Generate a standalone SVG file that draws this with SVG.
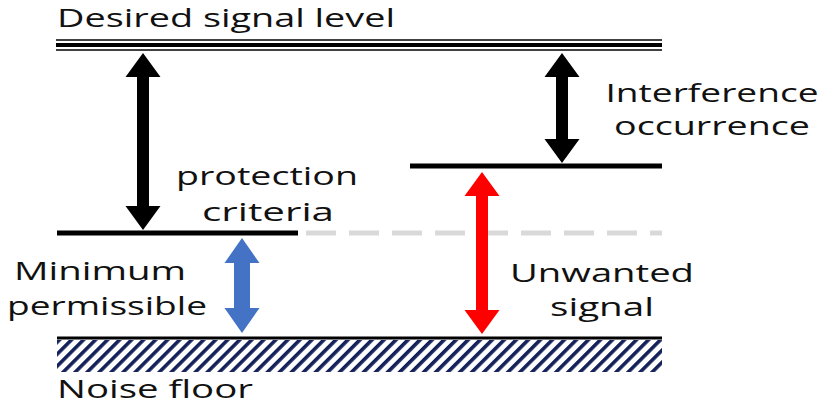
<svg xmlns="http://www.w3.org/2000/svg" width="827" height="410" viewBox="0 0 827 410">
  <style>
    .t { font-family: "Open Sans", "Liberation Sans", sans-serif; font-size: 26px; fill: #111; }
    .m { text-anchor: middle; }
    .lvl { stroke: #000; fill: none; }
    .blk { fill: #000; }
    .red { fill: #ff0000; }
    .blue { fill: #4472c4; }
  </style>
  <defs>
    <pattern id="hatch" patternUnits="userSpaceOnUse" width="8.5" height="8.5" patternTransform="rotate(45)">
      <rect x="0" y="0" width="3.6" height="8.5" fill="#14215a"/>
    </pattern>
  </defs>
  <rect width="827" height="410" fill="#fff"/>

  <g id="desired-level">
    <line class="lvl" x1="56" y1="40" x2="662" y2="40" stroke-width="1.5"/>
    <line class="lvl" x1="56" y1="45" x2="662" y2="45" stroke-width="4"/>
    <line class="lvl" x1="56" y1="50" x2="662" y2="50" stroke-width="1.5"/>
    <text class="t" x="57" y="27" textLength="338" lengthAdjust="spacingAndGlyphs">Desired signal level</text>
  </g>

  <g id="protection-level">
    <line class="lvl" x1="57" y1="233" x2="298" y2="233" stroke-width="5"/>
    <line x1="306" y1="233" x2="662" y2="233" stroke="#d9d9d9" stroke-width="5" stroke-dasharray="30 13"/>
  </g>

  <g id="interference-level">
    <line class="lvl" x1="410" y1="166" x2="662" y2="166" stroke-width="5"/>
  </g>

  <g id="noise-floor">
    <rect x="57" y="340" width="605" height="32" fill="url(#hatch)"/>
    <line class="lvl" x1="57" y1="338" x2="662" y2="338" stroke-width="3"/>
    <text class="t" x="57" y="398" textLength="196" lengthAdjust="spacingAndGlyphs">Noise floor</text>
  </g>

  <g id="label-protection">
    <text class="t m" x="267" y="185" textLength="182" lengthAdjust="spacingAndGlyphs">protection</text>
    <text class="t m" x="268" y="221" textLength="132" lengthAdjust="spacingAndGlyphs">criteria</text>
  </g>

  <g id="label-interference">
    <text class="t m" x="712" y="102" textLength="213" lengthAdjust="spacingAndGlyphs">Interference</text>
    <text class="t m" x="712" y="135" textLength="196" lengthAdjust="spacingAndGlyphs">occurrence</text>
  </g>

  <g id="label-minimum">
    <text class="t m" x="100" y="280" textLength="172" lengthAdjust="spacingAndGlyphs">Minimum</text>
    <text class="t m" x="107" y="315" textLength="200" lengthAdjust="spacingAndGlyphs">permissible</text>
  </g>

  <g id="label-unwanted">
    <text class="t m" x="602" y="282" textLength="184" lengthAdjust="spacingAndGlyphs">Unwanted</text>
    <text class="t m" x="602" y="316" textLength="104" lengthAdjust="spacingAndGlyphs">signal</text>
  </g>

  <g id="connectors">
    <polygon class="blk" points="143,53 160.5,77 149,77 149,206 160.5,206 143,230 125.5,206 137,206 137,77 125.5,77"/>
    <polygon class="blk" points="562,53 579.5,77 568,77 568,139 579.5,139 562,163 544.5,139 556,139 556,77 544.5,77"/>
    <polygon class="red" points="482,172 499.5,196 488,196 488,310 499.5,310 482,334 464.5,310 476,310 476,196 464.5,196"/>
    <polygon class="blue" points="242,238 259.5,263 250,263 250,308 259.5,308 242,333 224.5,308 234,308 234,263 224.5,263"/>
  </g>
</svg>
